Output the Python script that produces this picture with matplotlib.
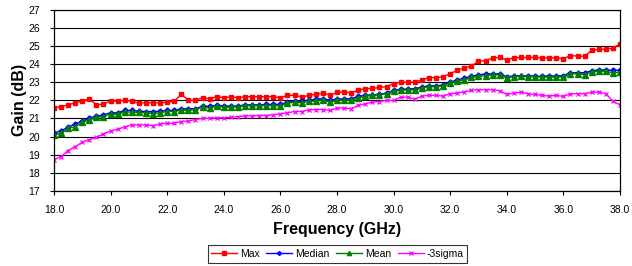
import numpy as np
import matplotlib
matplotlib.use("Agg")
import matplotlib.pyplot as plt

plt.rcParams["font.family"] = ["Liberation Sans", "DejaVu Sans"]

freq = np.linspace(18.0, 38.0, 81)

gain_max = [21.6, 21.65, 21.75, 21.86, 21.95, 22.08, 21.75, 21.8, 21.95, 21.95,
            22.0, 21.95, 21.84, 21.87, 21.86, 21.86, 21.9, 21.95, 22.32, 22.0,
            22.0, 22.14, 22.09, 22.2, 22.14, 22.2, 22.14, 22.2, 22.2, 22.2,
            22.2, 22.2, 22.14, 22.27, 22.28, 22.18, 22.27, 22.33, 22.4, 22.29,
            22.43, 22.47, 22.4, 22.56, 22.64, 22.65, 22.71, 22.75, 22.92, 22.99,
            22.99, 23.0, 23.12, 23.25, 23.25, 23.3, 23.47, 23.65, 23.78, 23.89,
            24.15, 24.19, 24.33, 24.36, 24.22, 24.35, 24.36, 24.36, 24.36, 24.33,
            24.35, 24.33, 24.3, 24.46, 24.44, 24.42, 24.76, 24.8, 24.83, 24.87,
            25.1]

gain_median = [20.18, 20.33, 20.51, 20.7, 20.85, 21.03, 21.12, 21.2, 21.31, 21.31,
               21.44, 21.44, 21.39, 21.38, 21.38, 21.39, 21.44, 21.44, 21.53, 21.53,
               21.53, 21.68, 21.66, 21.72, 21.68, 21.68, 21.68, 21.75, 21.75, 21.75,
               21.77, 21.77, 21.77, 21.9, 21.95, 21.95, 22.01, 22.05, 22.09, 22.0,
               22.07, 22.07, 22.09, 22.21, 22.27, 22.3, 22.32, 22.4, 22.55, 22.6,
               22.62, 22.64, 22.73, 22.8, 22.8, 22.84, 23.0, 23.13, 23.22, 23.32,
               23.4, 23.45, 23.46, 23.46, 23.3, 23.34, 23.36, 23.34, 23.34, 23.32,
               23.34, 23.34, 23.36, 23.52, 23.52, 23.52, 23.63, 23.67, 23.67, 23.65,
               23.65]

gain_mean = [20.07, 20.2, 20.45, 20.55, 20.8, 20.92, 21.06, 21.1, 21.25, 21.22,
             21.35, 21.35, 21.33, 21.31, 21.25, 21.31, 21.38, 21.38, 21.46, 21.44,
             21.49, 21.62, 21.57, 21.66, 21.62, 21.62, 21.64, 21.7, 21.7, 21.7,
             21.7, 21.7, 21.7, 21.84, 21.9, 21.86, 21.95, 21.95, 22.0, 21.9,
             22.0, 22.0, 22.0, 22.14, 22.21, 22.27, 22.3, 22.36, 22.49, 22.55,
             22.58, 22.56, 22.68, 22.75, 22.75, 22.79, 22.97, 23.06, 23.13, 23.26,
             23.32, 23.36, 23.4, 23.4, 23.25, 23.3, 23.32, 23.3, 23.3, 23.28,
             23.28, 23.28, 23.3, 23.46, 23.46, 23.42, 23.57, 23.6, 23.6, 23.51,
             23.55]

gain_3sigma = [18.73, 18.9, 19.23, 19.45, 19.68, 19.83, 19.96, 20.15, 20.3, 20.4,
               20.53, 20.64, 20.64, 20.64, 20.6, 20.7, 20.73, 20.73, 20.83, 20.86,
               20.94, 21.0, 21.01, 21.03, 21.03, 21.06, 21.1, 21.14, 21.14, 21.16,
               21.16, 21.2, 21.25, 21.31, 21.38, 21.38, 21.47, 21.49, 21.49, 21.44,
               21.57, 21.57, 21.53, 21.72, 21.8, 21.9, 21.93, 21.99, 21.99, 22.17,
               22.17, 22.06, 22.23, 22.27, 22.27, 22.23, 22.36, 22.4, 22.47, 22.55,
               22.58, 22.58, 22.58, 22.52, 22.32, 22.4, 22.45, 22.36, 22.32, 22.27,
               22.23, 22.27, 22.21, 22.36, 22.36, 22.36, 22.45, 22.45, 22.36, 21.95,
               21.75]

fig = plt.figure(figsize=(6.32, 2.66), dpi=100)
ax = fig.add_axes([0.0854, 0.282, 0.8956, 0.682])

ax.plot(freq, gain_max, color="#FF0000", marker="s", markersize=3.2, lw=1, label="Max")
ax.plot(freq, gain_median, color="#0000FF", marker="D", markersize=2.6, lw=1, label="Median")
ax.plot(freq, gain_mean, color="#008000", marker="^", markersize=3.8, lw=1, label="Mean")
ax.plot(freq, gain_3sigma, color="#FF00FF", marker="x", markersize=3.2, mew=0.9, lw=1, label="-3sigma")

ax.set_xlim(18, 38)
ax.set_ylim(17, 27)
ax.set_xticks(np.arange(18, 39, 2))
ax.set_xticklabels([f"{v:.1f}" for v in np.arange(18, 39, 2)])
ax.set_yticks(range(17, 28))
ax.yaxis.grid(True, color="black", lw=0.8)
ax.set_axisbelow(True)
ax.tick_params(labelsize=7.5, length=3, width=0.8, colors="black")
ax.tick_params(axis="x", pad=7)
ax.tick_params(axis="y", pad=7)
for s in ax.spines.values():
    s.set_linewidth(0.9)

ax.set_xlabel("Frequency (GHz)", fontsize=11.5, fontweight="bold", labelpad=5)
ax.set_ylabel("Gain (dB)", fontsize=11.5, fontweight="bold", labelpad=1)

leg = fig.legend(loc="center", bbox_to_anchor=(0.534, 0.045), ncol=4, fontsize=7.5,
                 frameon=True, fancybox=False, edgecolor="black", handlelength=2.5,
                 columnspacing=0.6, handletextpad=0.3, borderpad=0.35, markerscale=0.8)
leg.get_frame().set_linewidth(0.8)

fig.savefig("out.png", dpi=100)
